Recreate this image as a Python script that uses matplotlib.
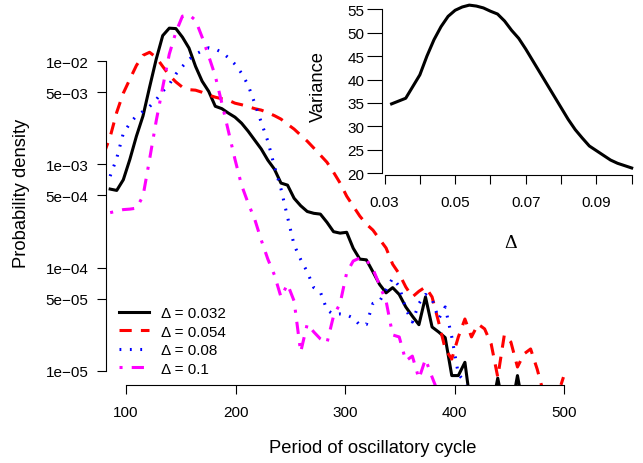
import matplotlib
matplotlib.use('Agg')
import matplotlib.pyplot as plt
from matplotlib.ticker import FixedLocator, FixedFormatter, NullLocator

plt.rcParams['font.family'] = ['Liberation Sans', 'DejaVu Sans']

# period of oscillatory cycle (bin centres)
period = [85.5, 91.5, 97.5, 103.5, 109.5, 115.5, 121.5, 127.5, 133.5, 139.5,
          145.5, 151.5, 157.5, 163.5, 169.5, 175.5, 181.5, 187.5, 193.5, 199.5,
          205.5, 211.5, 217.5, 223.5, 229.5, 235.5, 241.5, 247.5, 253.5, 259.5,
          265.5, 271.5, 277.5, 283.5, 289.5, 295.5, 301.5, 307.5, 313.5, 319.5,
          325.5, 331.5, 337.5, 343.5, 349.5, 355.5, 361.5, 367.5, 373.5, 379.5,
          385.5, 391.5, 397.5, 403.5, 409.5, 415.5, 421.5, 427.5, 433.5, 439.5,
          445.5, 451.5, 457.5, 463.5, 469.5, 475.5, 481.5, 487.5, 493.5, 499.5]
period_red = [79.5] + period

dens_032 = [5.77e-4, 5.6e-4, 7.1e-4, 1.12e-3, 1.88e-3, 2.95e-3, 5.6e-3, 1.04e-2, 1.77e-2, 2.09e-2,
            2.07e-2, 1.71e-2, 1.34e-2, 8.9e-3, 6.4e-3, 5.1e-3, 3.66e-3, 3.47e-3, 3.14e-3, 2.87e-3,
            2.51e-3, 2.1e-3, 1.72e-3, 1.41e-3, 1.1e-3, 9.0e-4, 6.6e-4, 6.3e-4, 4.7e-4, 3.98e-4,
            3.5e-4, 3.36e-4, 3.3e-4, 2.75e-4, 2.23e-4, 2.16e-4, 2.2e-4, 1.54e-4, 1.21e-4, 1.19e-4,
            9.1e-5, 6.9e-5, 5.7e-5, 6.4e-5, 5.5e-5, 4.16e-5, 3.39e-5, 2.8e-5, 5.2e-5, 2.66e-5,
            2.38e-5, 2.1e-5, 9e-6, 9e-6, 1.21e-5, 4e-6, 4e-6, 4e-6, 4e-6, 8.5e-6,
            4e-6, 4e-6, 9e-6, 4e-6, 4e-6, 4e-6, 4e-6, 4e-6, 4e-6, 4e-6]

dens_054 = [1.25e-3,
            1.85e-3, 3.2e-3, 4.9e-3, 6.7e-3, 9.1e-3, 1.14e-2, 1.22e-2, 1.09e-2, 8.9e-3, 7.3e-3,
            6.3e-3, 5.6e-3, 5.3e-3, 5.24e-3, 5.0e-3, 4.7e-3, 4.48e-3, 4.33e-3, 4.19e-3, 3.92e-3,
            3.79e-3, 3.63e-3, 3.47e-3, 3.36e-3, 3.17e-3, 2.97e-3, 2.75e-3, 2.45e-3, 2.2e-3, 1.92e-3,
            1.68e-3, 1.44e-3, 1.23e-3, 1.05e-3, 8.4e-4, 6.6e-4, 4.93e-4, 3.94e-4, 3.16e-4, 2.64e-4,
            2.31e-4, 1.89e-4, 1.55e-4, 1.08e-4, 8.7e-5, 6.5e-5, 5.2e-5, 5.9e-5, 6.5e-5, 5.2e-5,
            2.97e-5, 1.63e-5, 1.3e-5, 2.13e-5, 3.18e-5, 2.13e-5, 2.84e-5, 2.55e-5, 1.82e-5, 8.7e-6,
            2.23e-5, 1.9e-5, 1.09e-5, 1.46e-5, 1.63e-5, 1.04e-5, 6e-6, 5e-6, 5.5e-6, 8.7e-6]

dens_08 = [7.7e-4, 1.15e-3, 2.0e-3, 2.5e-3, 2.96e-3, 3.26e-3, 3.63e-3, 4.24e-3, 5.1e-3, 5.98e-3,
           7.5e-3, 8.9e-3, 1.04e-2, 1.17e-2, 1.26e-2, 1.35e-2, 1.31e-2, 1.22e-2, 1.08e-2, 9.35e-3,
           7.65e-3, 5.86e-3, 3.92e-3, 2.56e-3, 1.68e-3, 9.6e-4, 5.8e-4, 3.09e-4, 1.66e-4, 1.2e-4,
           9.1e-5, 6.4e-5, 5.8e-5, 3.9e-5, 3.52e-5, 3.56e-5, 3.48e-5, 3.25e-5, 2.78e-5, 2.81e-5,
           4.5e-5, 4.7e-5, 6.1e-5, 7.9e-5, 6.6e-5, 3.97e-5, 2.97e-5, 4.5e-5, 5.5e-5, 4.96e-5,
           3.18e-5, 4.16e-5, 2.13e-5, 9.3e-6, 7.8e-6, 4e-6, 4e-6]

dens_1 = [3.41e-4, 3.53e-4, 3.65e-4, 3.69e-4, 3.77e-4, 4.93e-4, 1.12e-3, 2.62e-3, 5.6e-3, 1.17e-2,
          1.91e-2, 2.73e-2, 2.82e-2, 2.49e-2, 1.71e-2, 1.12e-2, 7.2e-3, 3.92e-3, 2.1e-3, 1.12e-3,
          6.3e-4, 4.22e-4, 2.95e-4, 1.85e-4, 1.21e-4, 8.5e-5, 5.2e-5, 6.9e-5, 4.75e-5, 1.52e-5,
          2.84e-5, 2.38e-5, 2.04e-5, 1.86e-5, 3.4e-5, 4.5e-5, 8.9e-5, 1.16e-4, 1.24e-4, 1.19e-4,
          9.7e-5, 6.8e-5, 4.75e-5, 2.23e-5, 2.13e-5, 1.25e-5, 1.39e-5, 8.4e-6, 1.3e-5, 8.7e-6,
          6e-6, 7.3e-6, 4e-6]

# inset: variance of the period vs Delta
delta = [0.032, 0.036, 0.040, 0.042, 0.044, 0.046, 0.048, 0.050, 0.052, 0.054,
         0.056, 0.058, 0.060, 0.062, 0.064, 0.066, 0.068, 0.070, 0.072, 0.074,
         0.076, 0.078, 0.080, 0.082, 0.084, 0.086, 0.088, 0.090, 0.092, 0.094,
         0.096, 0.098, 0.100]
variance = [34.8, 36.0, 41.0, 45.0, 48.5, 51.3, 53.5, 54.8, 55.5, 55.9,
            55.7, 55.3, 54.6, 54.0, 52.5, 50.5, 48.8, 46.5, 44.0, 41.5,
            39.0, 36.5, 34.0, 31.5, 29.3, 27.5, 25.8, 24.8, 23.8, 22.8,
            22.1, 21.6, 21.1]

yticks = [1e-5, 5e-5, 1e-4, 5e-4, 1e-3, 5e-3, 1e-2]
ytick_labels = ['1e\u221205', '5e\u221205', '1e\u221204', '5e\u221204',
                '1e\u221203', '5e\u221203', '1e\u221202']
xticks = [100, 200, 300, 400, 500]

W, H = 643, 464
fig = plt.figure(figsize=(W / 100, H / 100), dpi=100)


def box(l, t, r, b):
    return [l / W, 1 - b / H, (r - l) / W, (b - t) / H]


ax = fig.add_axes(box(106, 1, 639, 386))
ax.patch.set_alpha(0)
ax.plot(period, dens_032, color='black', lw=2.2, label='\u0394 = 0.032')
ax.plot(period_red, dens_054, color='#ff0000', lw=2.2, ls=(0, (4, 3)), label='\u0394 = 0.054')
ax.plot(period[:len(dens_08)], dens_08, color='#0000ff', lw=2.2, ls=(0, (0.6, 2.8)),
        label='\u0394 = 0.08')
ax.plot(period[:len(dens_1)], dens_1, color='#ff00ff', lw=2.2, ls=(0, (1, 3, 4, 3)),
        label='\u0394 = 0.1')
ax.set_yscale('log')
ax.set_xlim(81.7, 568.5)
ax.set_ylim(10 ** -5.137, 10 ** -1.407)
ax.yaxis.set_major_locator(FixedLocator(yticks))
ax.yaxis.set_major_formatter(FixedFormatter(ytick_labels))
ax.yaxis.set_minor_locator(NullLocator())
ax.xaxis.set_major_locator(FixedLocator(xticks))
for s in ['top', 'right']:
    ax.spines[s].set_visible(False)
ax.spines['left'].set_bounds(1e-5, 1e-2)
ax.spines['bottom'].set_bounds(100, 500)
for s in ['left', 'bottom']:
    ax.spines[s].set_linewidth(0.8)
ax.tick_params(axis='both', length=6.7, width=0.8, labelsize=11)
ax.tick_params(axis='y', pad=6)
ax.tick_params(axis='x', pad=7.5)

leg = ax.legend(loc='upper left', bbox_to_anchor=(119 / W, 1 - 307 / H),
                bbox_transform=fig.transFigure, frameon=False, fontsize=11,
                handlelength=1.96, handletextpad=0.78, labelspacing=0.3,
                borderpad=0, borderaxespad=0)

fig.text(372.5 / W, 1 - 453 / H, 'Period of oscillatory cycle', fontsize=13.2,
         ha='center', va='baseline')
fig.text(22 / W, 1 - 193 / H, 'Probability density', fontsize=13.2,
         ha='center', va='center', rotation=90)

# inset
axi = fig.add_axes(box(382, -0.9, 641.3, 176))
axi.patch.set_alpha(0)
axi.plot(delta, variance, color='black', lw=2.2)
axi.set_xlim(0.02928, 0.10272)
axi.set_ylim(19.6, 57.4)
axi.xaxis.set_major_locator(FixedLocator([0.03, 0.04, 0.05, 0.06, 0.07, 0.08, 0.09, 0.10]))
axi.xaxis.set_major_formatter(FixedFormatter(['0.03', '', '0.05', '', '0.07', '', '0.09', '']))
axi.yaxis.set_major_locator(FixedLocator([20, 25, 30, 35, 40, 45, 50, 55]))
for s in ['top', 'right']:
    axi.spines[s].set_visible(False)
axi.spines['left'].set_bounds(20, 55)
axi.spines['bottom'].set_bounds(0.03, 0.10)
for s in ['left', 'bottom']:
    axi.spines[s].set_linewidth(0.8)
axi.tick_params(axis='both', width=0.8, labelsize=11)
axi.tick_params(axis='y', length=10.5, pad=2)
axi.tick_params(axis='x', length=6.7, pad=7.5)

fig.text(318 / W, 1 - 87 / H, 'Variance', fontsize=13.2,
         ha='center', va='center', rotation=90)
fig.text(511 / W, 1 - 248 / H, '\u0394', fontsize=14, ha='center', va='baseline',
         family=['Liberation Serif', 'DejaVu Serif'])

fig.savefig('out.png', dpi=100)
